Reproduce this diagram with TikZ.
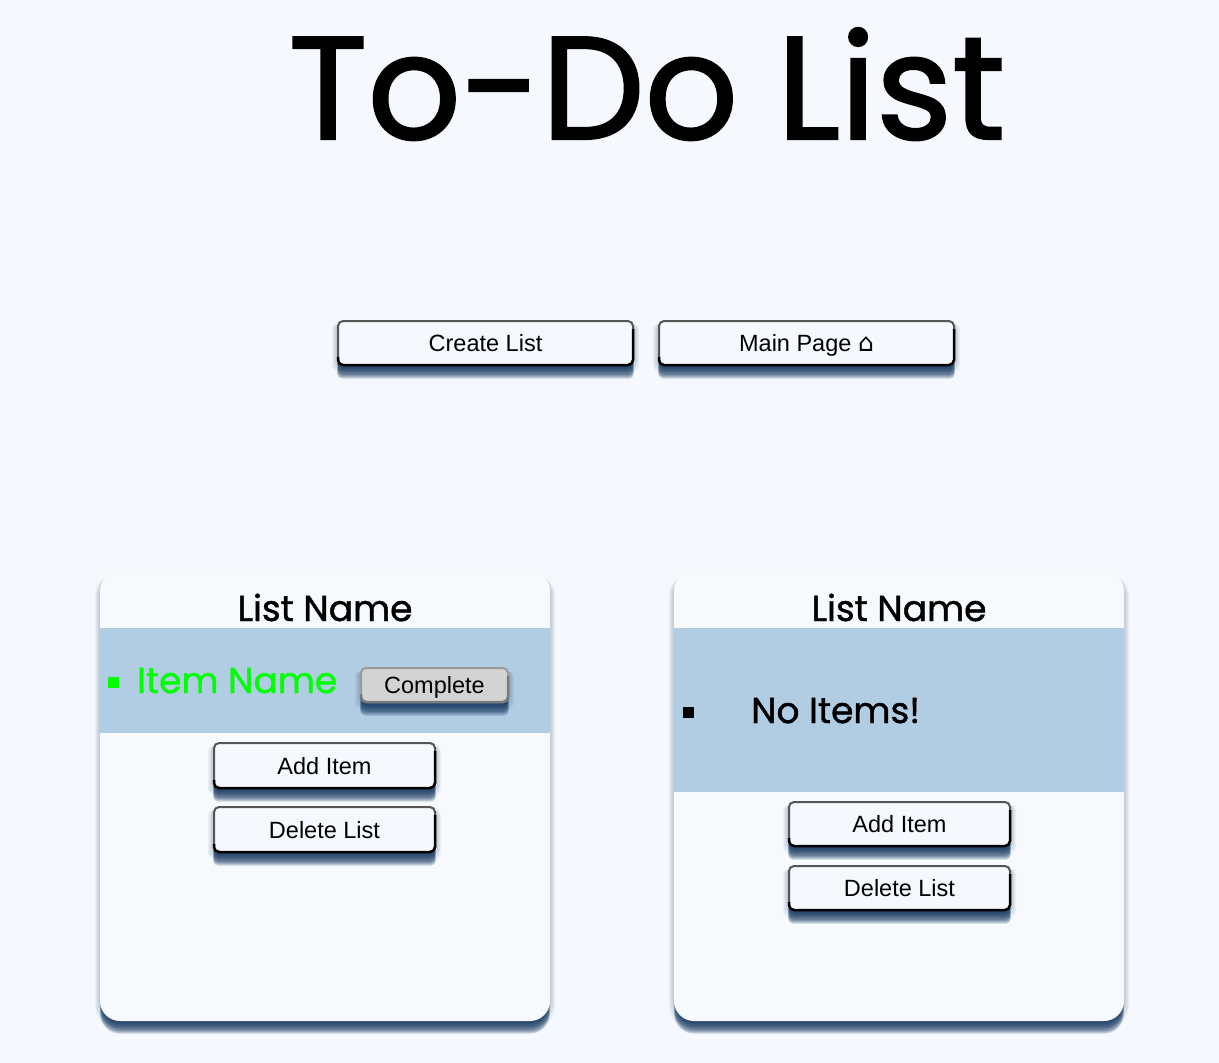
\documentclass[tikz,border=0pt]{standalone}
\usepackage{fontspec}
\setmainfont{Liberation Sans}
\newfontfamily\headfont[FakeBold=1.2]{Poppins}
\newfontfamily\titlefont[FakeBold=1.5]{Poppins}
\newfontfamily\symfont{DejaVu Sans}
\definecolor{bg}{HTML}{F5F9FD}
\definecolor{cardc}{HTML}{F6FAFD}
\definecolor{bandc}{HTML}{B1CDE4}
\definecolor{shadowc}{HTML}{1B3C63}
\definecolor{btnborder}{HTML}{555555}
\definecolor{greyfill}{HTML}{D3D3D3}
\definecolor{greyborder}{HTML}{9A9A9A}
\definecolor{itemgreen}{HTML}{00FF00}
\newcommand{\uishadow}[5]{%
  \foreach \k in {1,...,5}{
    \fill[shadowc, opacity=0.05, rounded corners=#5pt]
      ({#1-\k},{#2+4}) rectangle ({#3+\k},{#4-2+1.5*\k});
  }
  \foreach \k in {0,...,9}{
    \fill[shadowc, opacity=0.22, rounded corners=#5pt]
      ({#1+2-0.2*\k},{#2+4}) rectangle ({#3-2+0.2*\k},{#4+1+1.3*\k});
  }}
\newcommand{\uibtn}[9]{%
  \uishadow{#2}{#3}{#4}{#5}{5}
  \node[btn, fill=#6, draw=#7, minimum width={#4-#2-2}, minimum height={#5-#3-2}]
    (#1) at ({(#2+#4)/2},{(#3+#5)/2}) {#8};
  \draw[#9, line width=2.5pt, rounded corners=5pt]
    ({#4-1},{#3+9}) -- ({#4-1},{#5-1}) -- ({#2+1},{#5-1}) -- ({#2+1},{#5-9});
}
\tikzset{
  btn/.style={rectangle, rounded corners=5pt, line width=2pt, inner sep=0pt,
    text height=17pt, text depth=0pt, font=\fontsize{23.5}{28}\selectfont},
  card/.style={rectangle, rounded corners=20pt, fill=cardc, inner sep=0pt,
    minimum width=450pt, minimum height=450pt},
  band/.style={rectangle, fill=bandc, inner sep=0pt, minimum width=450pt},
  headtxt/.style={font=\headfont\fontsize{36}{40}\selectfont, inner sep=0pt},
  bullet/.style={rectangle, inner sep=0pt, minimum width=11pt, minimum height=11pt},
}
\begin{document}
\begin{tikzpicture}[x=1pt, y=-1pt]
\useasboundingbox (0,0) rectangle (1219,1063);
\fill[bg] (0,0) rectangle (1219,1063);

% title
\node[font=\titlefont\fontsize{146}{150}\selectfont, anchor=base, inner sep=0pt] (title) at (647,139) {To-Do List};

% top buttons
\uibtn{create}{337}{320}{634}{366}{bg}{btnborder}{Create List}{black}
\uibtn{mainpage}{658}{320}{955}{366}{bg}{btnborder}{Main Page {\symfont\fontsize{25}{28}\selectfont ⌂}}{black}

% left card
\uishadow{100}{571}{550}{1021}{20}
\node[card] (card1) at (325,796) {};
\node[band, minimum height=105pt] (band1) at (325,680.5) {};
\node[headtxt, anchor=base] (ln1) at (325,621) {List Name};
\node[bullet, fill=itemgreen] (b1) at (113.5,682.5) {};
\node[headtxt, anchor=base west, text=itemgreen] (item1) at (137,693) {Item Name};
\uibtn{complete}{360}{667}{509}{703}{greyfill}{greyborder}{Complete}{greyborder!80!black}
\uibtn{add1}{213}{742}{436}{789}{bg}{btnborder}{Add Item}{black}
\uibtn{del1}{213}{806}{436}{853}{bg}{btnborder}{Delete List}{black}

% right card
\uishadow{674}{571}{1124}{1021}{20}
\node[card] (card2) at (899,796) {};
\node[band, minimum height=164pt] (band2) at (899,710) {};
\node[headtxt, anchor=base] (ln2) at (899,621) {List Name};
\node[bullet, fill=black] (b2) at (688.5,712) {};
\node[headtxt, anchor=base west] (noitems) at (751,723) {No Items!};
\uibtn{add2}{788}{801}{1011}{847}{bg}{btnborder}{Add Item}{black}
\uibtn{del2}{788}{865}{1011}{911}{bg}{btnborder}{Delete List}{black}
\end{tikzpicture}
\end{document}
